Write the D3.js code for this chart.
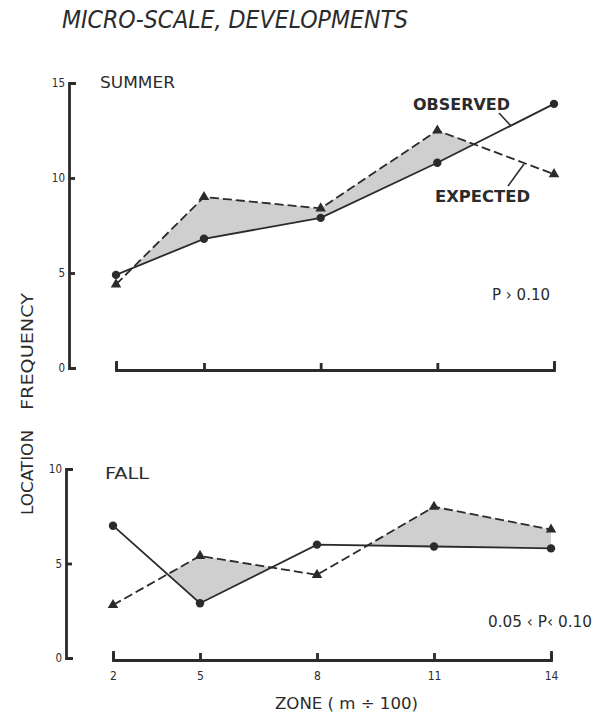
<!DOCTYPE html>
<html>
<head>
<meta charset="utf-8">
<script src="https://cdn.jsdelivr.net/npm/d3@7"></script>
<style>
  html, body { margin: 0; padding: 0; background: #fff; }
  svg { display: block; }
  text { font-family: "DejaVu Sans Condensed", "DejaVu Sans", sans-serif; fill: #2b2b2b; }
</style>
</head>
<body>
<div id="chart"></div>
<script>
// ---- data ----
const zones = [2, 5, 8, 11, 14];
const summerObserved = [4.9, 6.8, 7.9, 10.8, 13.9];
const summerExpected = [4.4, 9.0, 8.4, 12.5, 10.2];
const fallObserved = [7.0, 2.9, 6.0, 5.9, 5.8];
const fallExpected = [2.8, 5.4, 4.4, 8.0, 6.8];
const summerYTicks = [0, 5, 10, 15];
const fallYTicks = [0, 5, 10];
const title = "MICRO-SCALE, DEVELOPMENTS";

const W = 603, H = 715;
const ink = "#2b2b2b";
const svg = d3.select("#chart").append("svg").attr("width", W).attr("height", H);

svg.append("text").attr("x", 62).attr("y", 28)
  .attr("font-size", 25).attr("font-style", "italic")
  .attr("textLength", 346).attr("lengthAdjust", "spacingAndGlyphs")
  .text(title);

function panel(cfg) {
  const g = svg.append("g");
  const x = d3.scaleLinear().domain([2, 5, 14]).range(cfg.xRange);
  const y = d3.scaleLinear().domain([0, cfg.yMax]).range(cfg.yRange);
  const rows = zones.map((z, i) => ({ z, o: cfg.obs[i], e: cfg.exp[i] }));

  // clip: region above observed line
  const clipId = "clip-" + cfg.name;
  g.append("clipPath").attr("id", clipId).append("path")
    .attr("d", d3.area().x(d => x(d.z)).y0(d => y(d.o)).y1(y(cfg.yMax) - 40)(rows));

  // shading where expected exceeds observed
  g.append("path")
    .attr("d", d3.area().x(d => x(d.z)).y0(d => y(d.o)).y1(d => y(d.e))(rows))
    .attr("fill", "#cfcfcf").attr("clip-path", `url(#${clipId})`);

  // y axis
  const ya = g.append("g").attr("transform", `translate(${cfg.yAxisX},0)`)
    .call(d3.axisLeft(y).tickValues(cfg.yTicks).tickSize(-6).tickSizeOuter(-7).tickPadding(4));
  ya.selectAll("path, line").attr("stroke", ink).attr("stroke-width", 2.8);
  ya.selectAll("text").attr("font-size", 11.5).style("fill", ink)
    .attr("font-family", "DejaVu Sans Condensed, DejaVu Sans");

  // x axis
  const xa = g.append("g").attr("transform", `translate(0,${y(0) + 2})`)
    .call(d3.axisBottom(x).tickValues(zones).tickSize(-7).tickSizeOuter(-9).tickPadding(11));
  xa.selectAll("path, line").attr("stroke", ink).attr("stroke-width", 2.8);
  xa.selectAll("text").attr("font-size", 12).style("fill", ink)
    .attr("font-family", "DejaVu Sans Condensed, DejaVu Sans")
    .attr("display", cfg.showX ? null : "none");

  // expected (dashed + triangles)
  g.append("path")
    .attr("d", d3.line().x(d => x(d.z)).y(d => y(d.e))(rows))
    .attr("fill", "none").attr("stroke", ink).attr("stroke-width", 1.8)
    .attr("stroke-dasharray", "9,4");
  g.selectAll(".tri").data(rows).join("path")
    .attr("d", d3.symbol(d3.symbolTriangle, 48))
    .attr("transform", d => `translate(${x(d.z)},${y(d.e)})`)
    .attr("fill", ink);

  // observed (solid + circles)
  g.append("path")
    .attr("d", d3.line().x(d => x(d.z)).y(d => y(d.o))(rows))
    .attr("fill", "none").attr("stroke", ink).attr("stroke-width", 1.8);
  g.selectAll(".dot").data(rows).join("circle")
    .attr("cx", d => x(d.z)).attr("cy", d => y(d.o)).attr("r", 4.2)
    .attr("fill", ink);

  return { x, y, g };
}

panel({ name: "summer", obs: summerObserved, exp: summerExpected, yMax: 15,
        yRange: [368, 83], xRange: [116, 204, 554], yAxisX: 69,
        yTicks: summerYTicks, showX: false });
panel({ name: "fall", obs: fallObserved, exp: fallExpected, yMax: 10,
        yRange: [658, 469], xRange: [113, 200, 551], yAxisX: 66,
        yTicks: fallYTicks, showX: true });

function label(txt, x, yb, size, len, weight) {
  const t = svg.append("text").attr("x", x).attr("y", yb)
    .attr("font-size", size).attr("font-weight", weight || "normal").text(txt);
  if (len) t.attr("textLength", len).attr("lengthAdjust", "spacingAndGlyphs");
  return t;
}

label("SUMMER", 100, 88, 15, 75);
label("FALL", 105, 479, 15, 44);
label("OBSERVED", 413, 110, 15, 97, "bold");
label("EXPECTED", 435, 202, 15, 95, "bold");
label("P \u203A 0.10", 492, 300, 15, 58);
label("0.05 \u2039 P\u2039 0.10", 488, 627, 15, 104);
label("ZONE ( m \u00F7 100)", 275, 709, 16, 143);

// leader lines
svg.append("line").attr("x1", 499).attr("y1", 113).attr("x2", 511).attr("y2", 126)
  .attr("stroke", ink).attr("stroke-width", 1.6);
svg.append("line").attr("x1", 524).attr("y1", 164).attr("x2", 508).attr("y2", 186)
  .attr("stroke", ink).attr("stroke-width", 1.6);

// rotated y labels
svg.append("text").attr("transform", "translate(33,410) rotate(-90)")
  .attr("font-size", 15).attr("textLength", 117).attr("lengthAdjust", "spacingAndGlyphs")
  .text("FREQUENCY");
svg.append("text").attr("transform", "translate(33,515) rotate(-90)")
  .attr("font-size", 15).attr("textLength", 85).attr("lengthAdjust", "spacingAndGlyphs")
  .text("LOCATION");
</script>
</body>
</html>
